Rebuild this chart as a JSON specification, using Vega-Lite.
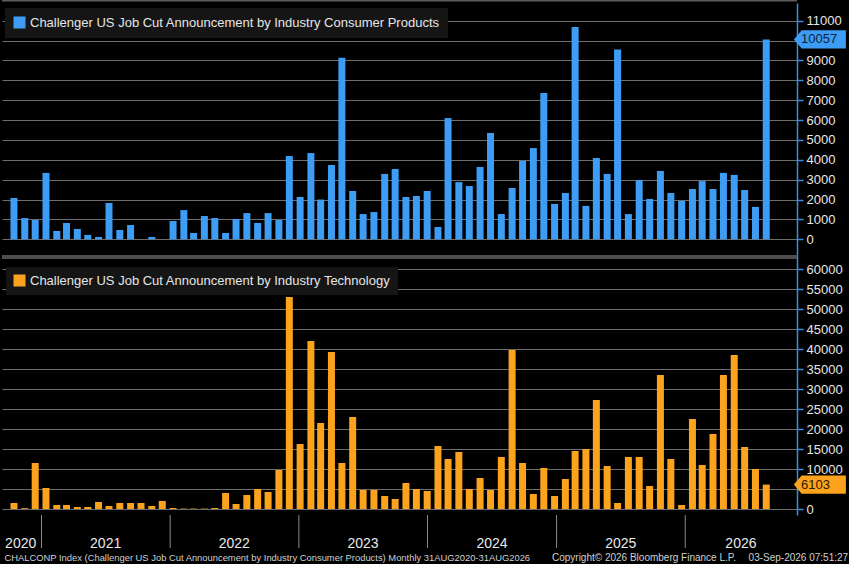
{
  "$schema": "https://vega.github.io/schema/vega-lite/v6.json",
  "background": "#000000",
  "padding": 0,
  "autosize": {"type": "pad"},
  "datasets": {
    "cuts": [
      {"month": "2020-09-30", "consumer": 2080, "technology": 1500},
      {"month": "2020-10-31", "consumer": 1070, "technology": 200},
      {"month": "2020-11-30", "consumer": 970, "technology": 11500},
      {"month": "2020-12-31", "consumer": 3340, "technology": 5250},
      {"month": "2021-01-31", "consumer": 420, "technology": 1000},
      {"month": "2021-02-28", "consumer": 820, "technology": 1000},
      {"month": "2021-03-31", "consumer": 520, "technology": 500},
      {"month": "2021-04-30", "consumer": 220, "technology": 500},
      {"month": "2021-05-31", "consumer": 120, "technology": 1750},
      {"month": "2021-06-30", "consumer": 1830, "technology": 750},
      {"month": "2021-07-31", "consumer": 470, "technology": 1500},
      {"month": "2021-08-31", "consumer": 720, "technology": 1500},
      {"month": "2021-09-30", "consumer": 0, "technology": 1500},
      {"month": "2021-10-31", "consumer": 120, "technology": 750},
      {"month": "2021-11-30", "consumer": 0, "technology": 2000},
      {"month": "2021-12-31", "consumer": 920, "technology": 250},
      {"month": "2022-01-31", "consumer": 1470, "technology": 100},
      {"month": "2022-02-28", "consumer": 320, "technology": 100},
      {"month": "2022-03-31", "consumer": 1170, "technology": 100},
      {"month": "2022-04-30", "consumer": 1070, "technology": 250},
      {"month": "2022-05-31", "consumer": 320, "technology": 4000},
      {"month": "2022-06-30", "consumer": 1020, "technology": 1250},
      {"month": "2022-07-31", "consumer": 1320, "technology": 3500},
      {"month": "2022-08-31", "consumer": 820, "technology": 5000},
      {"month": "2022-09-30", "consumer": 1320, "technology": 4250},
      {"month": "2022-10-31", "consumer": 970, "technology": 9750},
      {"month": "2022-11-30", "consumer": 4190, "technology": 53000},
      {"month": "2022-12-31", "consumer": 2130, "technology": 16250},
      {"month": "2023-01-31", "consumer": 4340, "technology": 42000},
      {"month": "2023-02-28", "consumer": 2000, "technology": 21500},
      {"month": "2023-03-31", "consumer": 3740, "technology": 39250},
      {"month": "2023-04-30", "consumer": 9140, "technology": 11500},
      {"month": "2023-05-31", "consumer": 2430, "technology": 23000},
      {"month": "2023-06-30", "consumer": 1270, "technology": 4750},
      {"month": "2023-07-31", "consumer": 1370, "technology": 4750},
      {"month": "2023-08-31", "consumer": 3290, "technology": 3250},
      {"month": "2023-09-30", "consumer": 3540, "technology": 2500},
      {"month": "2023-10-31", "consumer": 2130, "technology": 6500},
      {"month": "2023-11-30", "consumer": 2180, "technology": 5000},
      {"month": "2023-12-31", "consumer": 2430, "technology": 4500},
      {"month": "2024-01-31", "consumer": 620, "technology": 15750},
      {"month": "2024-02-29", "consumer": 6100, "technology": 12500},
      {"month": "2024-03-31", "consumer": 2880, "technology": 14250},
      {"month": "2024-04-30", "consumer": 2680, "technology": 5000},
      {"month": "2024-05-31", "consumer": 3640, "technology": 7750},
      {"month": "2024-06-30", "consumer": 5350, "technology": 4750},
      {"month": "2024-07-31", "consumer": 1270, "technology": 13000},
      {"month": "2024-08-31", "consumer": 2580, "technology": 39750},
      {"month": "2024-09-30", "consumer": 3940, "technology": 11500},
      {"month": "2024-10-31", "consumer": 4590, "technology": 3750},
      {"month": "2024-11-30", "consumer": 7360, "technology": 10250},
      {"month": "2024-12-31", "consumer": 1780, "technology": 3250},
      {"month": "2025-01-31", "consumer": 2330, "technology": 7500},
      {"month": "2025-02-28", "consumer": 10680, "technology": 14500},
      {"month": "2025-03-31", "consumer": 1680, "technology": 15000},
      {"month": "2025-04-30", "consumer": 4090, "technology": 27250},
      {"month": "2025-05-31", "consumer": 3290, "technology": 10750},
      {"month": "2025-06-30", "consumer": 9550, "technology": 1500},
      {"month": "2025-07-31", "consumer": 1270, "technology": 13000},
      {"month": "2025-08-31", "consumer": 2980, "technology": 13000},
      {"month": "2025-09-30", "consumer": 2030, "technology": 5750},
      {"month": "2025-10-31", "consumer": 3440, "technology": 33500},
      {"month": "2025-11-30", "consumer": 2330, "technology": 12500},
      {"month": "2025-12-31", "consumer": 1930, "technology": 1000},
      {"month": "2026-01-31", "consumer": 2530, "technology": 22500},
      {"month": "2026-02-28", "consumer": 2930, "technology": 11000},
      {"month": "2026-03-31", "consumer": 2530, "technology": 18750},
      {"month": "2026-04-30", "consumer": 3340, "technology": 33500},
      {"month": "2026-05-31", "consumer": 3240, "technology": 38500},
      {"month": "2026-06-30", "consumer": 2480, "technology": 15500},
      {"month": "2026-07-31", "consumer": 1630, "technology": 10000},
      {"month": "2026-08-31", "consumer": 10057, "technology": 6103}
    ],
    "dividers": [
      {"date": "2020-12-31"}, {"date": "2021-12-31"}, {"date": "2022-12-31"},
      {"date": "2023-12-31"}, {"date": "2024-12-31"}, {"date": "2025-12-31"}
    ],
    "years": [
      {"year": "2020", "mid": "2020-11-02"},
      {"year": "2021", "mid": "2021-07-01"},
      {"year": "2022", "mid": "2022-07-01"},
      {"year": "2023", "mid": "2023-07-01"},
      {"year": "2024", "mid": "2024-07-01"},
      {"year": "2025", "mid": "2025-07-01"},
      {"year": "2026", "mid": "2026-06-07"}
    ]
  },
  "bounds": "flush",
  "spacing": 0,
  "resolve": {"scale": {"color": "independent", "fill": "independent"}},
  "vconcat": [
    {
      "width": 795,
      "height": 252,
      "layer": [
        {
          "data": {"name": "cuts"},
          "mark": {"type": "bar", "size": 7},
          "encoding": {
            "x": {
              "field": "month", "type": "temporal",
              "scale": {"domain": [1599696000000, 1794528000000]},
              "axis": null
            },
            "y": {
              "field": "consumer", "type": "quantitative",
              "scale": {"domain": [-790, 11890], "nice": false, "zero": false},
              "axis": {"orient": "right", "title": null, "labelExpr": "datum.value == 10000 ? '' : datum.label", "values": [0, 1000, 2000, 3000, 4000, 5000, 6000, 7000, 8000, 9000, 10000, 11000]}
            },
            "y2": {"datum": 0},
            "color": {
              "datum": "Challenger US Job Cut Announcement by Industry Consumer Products",
              "type": "nominal",
              "scale": {"range": ["#3d9df5"]},
              "legend": {"title": null, "orient": "none", "legendX": 3, "legendY": 5, "fillColor": "#151515", "padding": 8, "symbolType": "square", "symbolSize": 144, "symbolStrokeWidth": 0, "labelFontSize": 13, "labelColor": "#e6e6e6", "labelLimit": 700, "labelFont": "Liberation Sans"}
            }
          }
        },
        {
          "data": {"values": [{"edge": "top"}]},
          "mark": {"type": "rule", "color": "#5c5c5c", "strokeWidth": 1.5},
          "encoding": {
            "y": {"datum": 12000, "type": "quantitative", "axis": {"orient": "right", "title": null, "labelExpr": "datum.value == 10000 ? '' : datum.label", "values": [0, 1000, 2000, 3000, 4000, 5000, 6000, 7000, 8000, 9000, 10000, 11000]}}
          }
        },
        {
          "data": {"name": "cuts"},
          "transform": [{"filter": "utcyear(datum.month) == 2026 && utcmonth(datum.month) == 7"}],
          "mark": {"type": "point", "shape": "M-1,0L-0.7,-0.35L1,-0.35L1,0.35L-0.7,0.35Z", "filled": true, "opacity": 1, "fill": "#3d9df5", "strokeWidth": 0, "size": 2704},
          "encoding": {
            "x": {"datum": 1801440000000, "type": "temporal", "axis": null},
            "y": {"field": "consumer", "type": "quantitative", "axis": {"orient": "right", "title": null, "labelExpr": "datum.value == 10000 ? '' : datum.label", "values": [0, 1000, 2000, 3000, 4000, 5000, 6000, 7000, 8000, 9000, 10000, 11000]}}
          }
        },
        {
          "data": {"name": "cuts"},
          "transform": [{"filter": "utcyear(datum.month) == 2026 && utcmonth(datum.month) == 7"}],
          "mark": {"type": "text", "align": "left", "baseline": "middle", "fontSize": 13, "font": "Liberation Sans", "color": "#0a1f3a"},
          "encoding": {
            "x": {"datum": 1796774400000, "type": "temporal", "axis": null},
            "y": {"field": "consumer", "type": "quantitative", "axis": {"orient": "right", "title": null, "labelExpr": "datum.value == 10000 ? '' : datum.label", "values": [0, 1000, 2000, 3000, 4000, 5000, 6000, 7000, 8000, 9000, 10000, 11000]}},
            "text": {"field": "consumer", "type": "quantitative", "format": "d"}
          }
        }
      ]
    },
    {
      "width": 795,
      "height": 260,
      "layer": [
        {
          "data": {"name": "cuts"},
          "mark": {"type": "bar", "size": 7},
          "encoding": {
            "x": {
              "field": "month", "type": "temporal",
              "scale": {"domain": [1599696000000, 1794528000000]},
              "axis": {
                "orient": "bottom", "title": null, "labels": false, "grid": false,
                "domainColor": "#ffffff", "domainWidth": 1, "tickColor": "#ffffff", "tickSize": 4, "tickWidth": 1,
                "values": [
                  1601424000000, 1609372800000, 1617148800000, 1625011200000, 1632960000000,
                  1640908800000, 1648684800000, 1656547200000, 1664496000000, 1672444800000,
                  1680220800000, 1688083200000, 1696032000000, 1703980800000, 1711843200000,
                  1719705600000, 1727654400000, 1735603200000, 1743379200000, 1751241600000,
                  1759190400000, 1767139200000, 1774915200000, 1782777600000, 1790726400000
                ]
              }
            },
            "y": {
              "field": "technology", "type": "quantitative",
              "scale": {"domain": [-1500, 63500], "nice": false, "zero": false},
              "axis": {"orient": "right", "title": null, "labelExpr": "datum.value == 5000 ? '' : datum.label", "values": [0, 5000, 10000, 15000, 20000, 25000, 30000, 35000, 40000, 45000, 50000, 55000, 60000]}
            },
            "y2": {"datum": 0},
            "fill": {
              "datum": "Challenger US Job Cut Announcement by Industry Technology",
              "type": "nominal",
              "scale": {"range": ["#fca31d"]},
              "legend": {"title": null, "orient": "none", "legendX": 4, "legendY": 12, "fillColor": "#151515", "padding": 7, "symbolType": "square", "symbolSize": 144, "symbolStrokeWidth": 0, "labelFontSize": 13, "labelColor": "#e6e6e6", "labelLimit": 700, "labelFont": "Liberation Sans"}
            }
          }
        },
        {
          "data": {"values": [{"edge": "separator"}]},
          "mark": {"type": "rule", "color": "#4d4d4d", "strokeWidth": 4},
          "encoding": {
            "y": {"datum": 63000, "type": "quantitative", "axis": {"orient": "right", "title": null, "labelExpr": "datum.value == 5000 ? '' : datum.label", "values": [0, 5000, 10000, 15000, 20000, 25000, 30000, 35000, 40000, 45000, 50000, 55000, 60000]}}
          }
        },
        {
          "data": {"name": "cuts"},
          "transform": [{"filter": "utcyear(datum.month) == 2026 && utcmonth(datum.month) == 7"}],
          "mark": {"type": "point", "shape": "M-1,0L-0.7,-0.35L1,-0.35L1,0.35L-0.7,0.35Z", "filled": true, "opacity": 1, "fill": "#fca31d", "strokeWidth": 0, "size": 2704},
          "encoding": {
            "x": {"datum": 1801440000000, "type": "temporal", "axis": null},
            "y": {"field": "technology", "type": "quantitative", "axis": {"orient": "right", "title": null, "labelExpr": "datum.value == 5000 ? '' : datum.label", "values": [0, 5000, 10000, 15000, 20000, 25000, 30000, 35000, 40000, 45000, 50000, 55000, 60000]}}
          }
        },
        {
          "data": {"name": "cuts"},
          "transform": [{"filter": "utcyear(datum.month) == 2026 && utcmonth(datum.month) == 7"}],
          "mark": {"type": "text", "align": "left", "baseline": "middle", "fontSize": 13, "font": "Liberation Sans", "color": "#2a1800"},
          "encoding": {
            "x": {"datum": 1796774400000, "type": "temporal", "axis": null},
            "y": {"field": "technology", "type": "quantitative", "axis": {"orient": "right", "title": null, "labelExpr": "datum.value == 5000 ? '' : datum.label", "values": [0, 5000, 10000, 15000, 20000, 25000, 30000, 35000, 40000, 45000, 50000, 55000, 60000]}},
            "text": {"field": "technology", "type": "quantitative", "format": "d"}
          }
        }
      ]
    },
    {
      "width": 795,
      "height": 33,
      "layer": [
        {
          "data": {"name": "dividers"},
          "mark": {"type": "rule", "color": "#8a8a8a", "strokeWidth": 1},
          "encoding": {
            "x": {
              "field": "date", "type": "temporal",
              "scale": {"domain": [1599696000000, 1794528000000]},
              "axis": null
            },
            "y": {"datum": 0, "type": "quantitative", "scale": {"domain": [0, 1]}, "axis": null},
            "y2": {"datum": 1}
          }
        },
        {
          "data": {"name": "years"},
          "mark": {"type": "text", "align": "center", "baseline": "middle", "fontSize": 14, "font": "Liberation Sans", "color": "#e8e8e8"},
          "encoding": {
            "x": {"field": "mid", "type": "temporal", "axis": null},
            "y": {"datum": 0.12, "type": "quantitative", "axis": null},
            "text": {"field": "year", "type": "nominal"}
          }
        }
      ]
    },
    {
      "width": 795,
      "height": 16,
      "layer": [
        {
          "data": {"values": [{"label": "CHALCONP Index (Challenger US Job Cut Announcement by Industry Consumer Products) Monthly 31AUG2020-31AUG2026"}]},
          "mark": {"type": "text", "align": "left", "baseline": "middle", "fontSize": 9.4, "font": "Liberation Sans", "color": "#d0d0d0"},
          "encoding": {
            "x": {"datum": 1600300800000, "type": "temporal", "scale": {"domain": [1599696000000, 1794528000000]}, "axis": null},
            "y": {"datum": 0.4, "type": "quantitative", "scale": {"domain": [0, 1]}, "axis": null},
            "text": {"field": "label", "type": "nominal"}
          }
        },
        {
          "data": {"values": [{"label": "Copyright© 2026 Bloomberg Finance L.P."}]},
          "mark": {"type": "text", "align": "left", "baseline": "middle", "fontSize": 10, "font": "Liberation Sans", "color": "#d0d0d0"},
          "encoding": {
            "x": {"datum": 1734480000000, "type": "temporal", "axis": null},
            "y": {"datum": 0.4, "type": "quantitative", "axis": null},
            "text": {"field": "label", "type": "nominal"}
          }
        },
        {
          "data": {"values": [{"label": "03-Sep-2026 07:51:27"}]},
          "mark": {"type": "text", "align": "right", "baseline": "middle", "fontSize": 10, "font": "Liberation Sans", "color": "#d0d0d0"},
          "encoding": {
            "x": {"datum": 1807056000000, "type": "temporal", "axis": null},
            "y": {"datum": 0.4, "type": "quantitative", "axis": null},
            "text": {"field": "label", "type": "nominal"}
          }
        }
      ]
    }
  ],
  "config": {
    "view": {"stroke": null},
    "font": "Liberation Sans",
    "axis": {
      "labelFont": "Liberation Sans",
      "labelFontSize": 13,
      "labelColor": "#e6e6e6",
      "labelPadding": 3,
      "domainColor": "#3b8de0",
      "domainWidth": 1.5,
      "tickColor": "#3b8de0",
      "tickSize": 6,
      "tickWidth": 1.5,
      "gridColor": "#6e6e6e",
      "gridWidth": 1
    },
    "axisY": {"grid": true, "format": "d"}
  }
}
